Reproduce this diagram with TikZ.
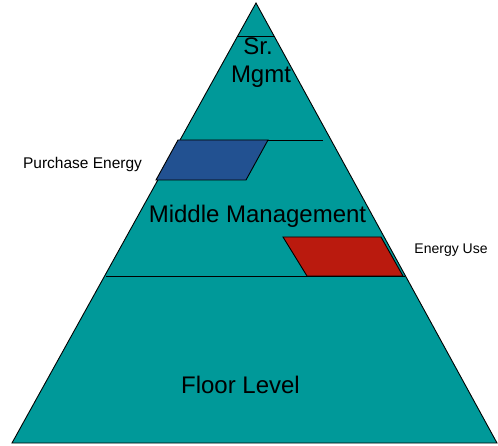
\documentclass[tikz,border=0pt]{standalone}
\usepackage{fontspec}
\setmainfont{Liberation Sans}
\definecolor{teal1}{RGB}{0,153,153}
\definecolor{blue1}{RGB}{34,81,145}
\definecolor{red1}{RGB}{186,26,14}
\begin{document}
\begin{tikzpicture}[x=1pt,y=-1pt,
  edge/.style={draw=black,line width=0.9pt},
  big/.style={anchor=base,inner sep=0pt,font=\fontsize{24}{28}\selectfont},
  small/.style={anchor=base,inner sep=0pt,font=\fontsize{14}{17}\selectfont}]
\useasboundingbox (0,0) rectangle (498,446);
\coordinate (apex) at (256,3);
\coordinate (bl) at (12,443);
\coordinate (br) at (497,443);
\fill[teal1] (apex) -- (bl) -- (br) -- cycle;
\draw[edge,line join=miter] (apex) -- (bl) -- (br) -- cycle;
% tier lines
\coordinate (t1l) at (236.5,36); \coordinate (t1r) at (275,36);
\coordinate (t2l) at (180,140); \coordinate (t2r) at (323,140);
\coordinate (t3l) at (106,276); \coordinate (t3r) at (405,276);
\draw[edge] (t1l) -- (t1r);
\draw[edge] (t2l) -- (t2r);
\draw[edge] (t3l) -- (t3r);
% parallelograms
\coordinate (b1) at (178,140); \coordinate (b2) at (268,140);
\coordinate (b3) at (246,180); \coordinate (b4) at (156,180);
\draw[edge,fill=blue1] (b1) -- (b2) -- (b3) -- (b4) -- cycle;
\coordinate (r1) at (283,237); \coordinate (r2) at (381,237);
\coordinate (r3) at (403,276); \coordinate (r4) at (307,276);
\draw[edge,fill=red1] (r1) -- (r2) -- (r3) -- (r4) -- cycle;
% labels
\node[big] (sr) at (258,55) {Sr.};
\node[big] (mg) at (261,83) {Mgmt};
\node[big] (mid) at (257.5,223) {Middle Management};
\node[big] (floor) at (240.5,393) {Floor Level};
\node[small,font=\fontsize{15.5}{18}\selectfont] (pe) at (82.5,169) {Purchase Energy};
\node[small] (eu) at (451,254) {Energy Use};
\end{tikzpicture}
\end{document}
